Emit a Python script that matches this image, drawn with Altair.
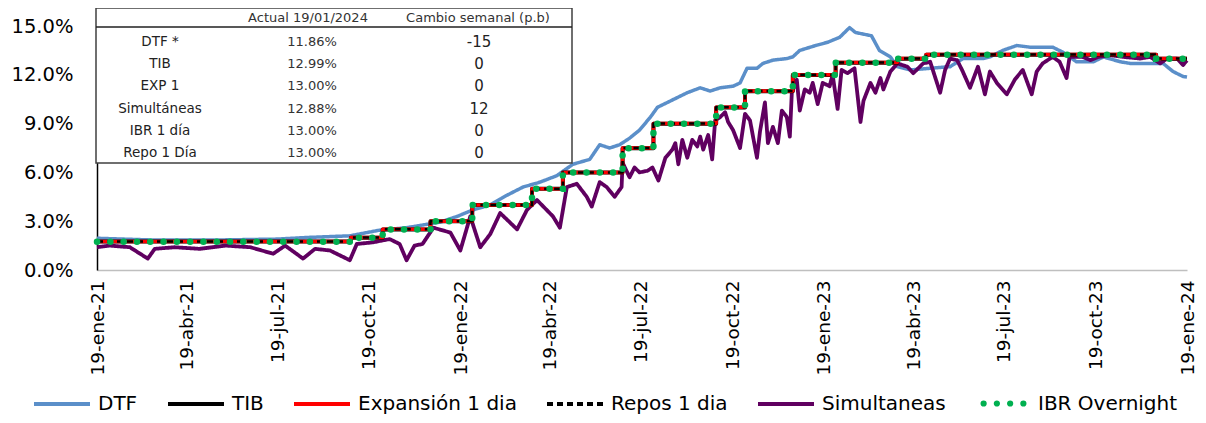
import altair as alt
import pandas as pd

# ------------------------------------------------------------------ data
SERIES = ["DTF", "TIB", "Expansión 1 dia", "Repos 1 dia", "Simultaneas"]
COLORES = ["#5B8FC9", "#000000", "#FF0000", "#000000", "#600060"]
IBR_NOMBRE = "IBR Overnight"
IBR_COLOR = "#00B050"

DTF_FECHAS = ["2021-01-19", "2021-03-13", "2021-05-26", "2021-07-19", "2021-08-18", "2021-09-30",
              "2021-10-30", "2021-11-26", "2021-12-30", "2022-01-16", "2022-02-01", "2022-02-18",
              "2022-03-07", "2022-03-23", "2022-04-09", "2022-04-26", "2022-05-12", "2022-05-29",
              "2022-06-08", "2022-06-18", "2022-06-28", "2022-07-08", "2022-07-18", "2022-07-29",
              "2022-08-05", "2022-08-15", "2022-08-25", "2022-09-04", "2022-09-17", "2022-09-27",
              "2022-10-07", "2022-10-20", "2022-10-27", "2022-11-03", "2022-11-13", "2022-11-19",
              "2022-11-29", "2022-12-13", "2022-12-19", "2022-12-26", "2023-01-11", "2023-01-23",
              "2023-02-04", "2023-02-14", "2023-02-20", "2023-03-08", "2023-03-16", "2023-03-27",
              "2023-04-03", "2023-04-16", "2023-05-06", "2023-05-26", "2023-06-08", "2023-06-28",
              "2023-07-05", "2023-07-18", "2023-08-01", "2023-08-14", "2023-09-06", "2023-09-16",
              "2023-09-30", "2023-10-17", "2023-10-27", "2023-11-13", "2023-11-23", "2023-12-26",
              "2024-01-05", "2024-01-15", "2024-01-19"]
DTF_VALORES = [1.95, 1.85, 1.85, 1.9, 2.0, 2.1,
               2.45, 2.6, 2.95, 3.3, 3.7, 4.0,
               4.6, 5.1, 5.4, 5.8, 6.5, 6.8,
               7.7, 7.5, 7.7, 8.1, 8.6, 9.4,
               10.0, 10.3, 10.6, 10.9, 11.2, 11.0,
               11.2, 11.3, 11.5, 12.4, 12.4, 12.7,
               12.9, 13.0, 13.1, 13.5, 13.8, 14.0,
               14.3, 14.9, 14.6, 14.4, 13.5, 13.1,
               12.5, 12.3, 12.4, 12.5, 13.0, 13.0,
               13.1, 13.5, 13.8, 13.7, 13.7, 13.4,
               12.8, 12.8, 13.1, 12.8, 12.7, 12.7,
               12.2, 11.9, 11.86]

SIM_FECHAS = ["2021-01-19", "2021-02-01", "2021-02-21", "2021-03-11", "2021-03-18", "2021-04-07",
              "2021-05-02", "2021-05-28", "2021-06-22", "2021-07-15", "2021-07-27", "2021-08-14",
              "2021-08-26", "2021-09-10", "2021-09-30", "2021-10-07", "2021-10-23", "2021-11-09",
              "2021-11-19", "2021-11-26", "2021-12-04", "2021-12-12", "2021-12-23", "2022-01-09",
              "2022-01-19", "2022-01-29", "2022-02-08", "2022-02-18", "2022-02-28", "2022-03-17",
              "2022-03-27", "2022-04-06", "2022-04-22", "2022-04-29", "2022-05-06", "2022-05-16",
              "2022-05-26", "2022-05-31", "2022-06-08", "2022-06-15", "2022-06-23", "2022-06-30",
              "2022-07-01", "2022-07-08", "2022-07-13", "2022-07-18", "2022-07-26", "2022-07-31",
              "2022-08-06", "2022-08-13", "2022-08-20", "2022-08-23", "2022-08-26", "2022-08-30",
              "2022-09-04", "2022-09-09", "2022-09-14", "2022-09-17", "2022-09-20", "2022-09-25",
              "2022-09-29", "2022-10-02", "2022-10-07", "2022-10-12", "2022-10-15", "2022-10-20",
              "2022-10-27", "2022-11-01", "2022-11-06", "2022-11-13", "2022-11-16", "2022-11-21",
              "2022-11-24", "2022-11-29", "2022-12-04", "2022-12-08", "2022-12-13", "2022-12-16",
              "2022-12-18", "2022-12-23", "2022-12-26", "2022-12-31", "2023-01-05", "2023-01-08",
              "2023-01-13", "2023-01-18", "2023-01-25", "2023-01-28", "2023-02-02", "2023-02-06",
              "2023-02-12", "2023-02-19", "2023-02-25", "2023-02-28", "2023-03-07", "2023-03-12",
              "2023-03-17", "2023-03-20", "2023-03-27", "2023-04-03", "2023-04-13", "2023-04-19",
              "2023-04-29", "2023-05-06", "2023-05-16", "2023-05-21", "2023-05-26", "2023-06-02",
              "2023-06-07", "2023-06-15", "2023-06-23", "2023-06-30", "2023-07-05", "2023-07-12",
              "2023-07-22", "2023-07-30", "2023-08-07", "2023-08-16", "2023-08-21", "2023-08-27",
              "2023-09-06", "2023-09-13", "2023-09-20", "2023-09-23", "2023-10-06", "2023-10-14",
              "2023-10-22", "2023-11-03", "2023-11-16", "2023-12-03", "2023-12-13", "2023-12-23",
              "2023-12-30", "2024-01-09", "2024-01-15", "2024-01-19"]
SIM_VALORES = [1.4, 1.5, 1.4, 0.7, 1.3, 1.4,
               1.3, 1.5, 1.4, 1.0, 1.5, 0.7,
               1.3, 1.2, 0.6, 1.6, 1.7, 1.9,
               1.6, 0.6, 1.5, 1.6, 2.6, 2.3,
               1.2, 3.3, 1.4, 2.2, 3.5, 2.5,
               3.7, 4.3, 3.3, 2.6, 5.1, 5.3,
               4.5, 3.9, 5.4, 5.1, 4.5, 5.1,
               6.6, 5.7, 6.3, 6.0, 6.1, 6.3,
               5.5, 6.9, 7.4, 7.8, 6.5, 8.0,
               6.9, 8.0, 7.6, 8.2, 7.4, 8.3,
               6.8, 9.2, 9.4, 9.7, 9.1, 8.6,
               7.5, 9.6, 9.2, 6.9, 8.5, 10.3,
               7.8, 8.8, 7.8, 9.8, 9.4, 8.2,
               10.9, 11.7, 9.8, 11.1, 10.9, 11.5,
               10.2, 11.5, 11.3, 12.0, 9.9, 12.3,
               12.1, 12.4, 9.1, 10.4, 11.5, 10.9,
               11.8, 11.1, 12.2, 12.7, 12.5, 12.1,
               12.7, 12.8, 10.9, 12.3, 13.0, 12.9,
               12.3, 11.2, 12.5, 10.8, 12.2, 11.5,
               10.8, 11.7, 12.3, 10.8, 12.2, 12.7,
               13.1, 12.8, 11.8, 13.1, 13.1, 12.9,
               13.1, 13.2, 13.1, 13.0, 13.1, 12.7,
               13.0, 13.0, 12.6, 12.88]

POL_FECHAS = ["2021-01-19", "2021-10-01", "2021-11-02", "2021-12-20", "2022-01-31", "2022-04-01",
              "2022-05-02", "2022-07-01", "2022-08-01", "2022-10-03", "2022-11-01", "2022-12-19",
              "2023-01-31", "2023-04-03", "2023-05-02", "2023-12-19", "2024-01-19"]
TIB_VALORES = [1.75, 1.99, 2.49, 2.99, 3.99, 4.99, 5.99, 7.49, 8.99, 9.99, 10.99, 11.99,
               12.74, 12.99, 13.24, 12.99, 12.99]
EXP_VALORES = [1.75, 2.0, 2.5, 3.0, 4.0, 5.0, 6.0, 7.5, 9.0, 10.0, 11.0, 12.0,
               12.75, 13.0, 13.25, 13.0, 13.0]
REPO_VALORES = [1.75, 2.0, 2.5, 3.0, 4.0, 5.0, 6.0, 7.5, 9.0, 10.0, 11.0, 12.0,
                12.75, 13.0, 13.25, 13.0, 13.0]
IBR_VALORES = [1.74, 1.99, 2.49, 2.99, 3.99, 4.99, 5.99, 7.49, 8.99, 9.99, 10.99, 11.99,
               12.74, 12.99, 13.24, 12.99, 13.0]

TICK_FECHAS = ["2021-01-19", "2021-04-19", "2021-07-19", "2021-10-19", "2022-01-19", "2022-04-19",
               "2022-07-19", "2022-10-19", "2023-01-19", "2023-04-19", "2023-07-19", "2023-10-19",
               "2024-01-19"]
MESES = ["ene", "feb", "mar", "abr", "may", "jun", "jul", "ago", "sep", "oct", "nov", "dic"]
Y_TICKS = [0, 3, 6, 9, 12, 15]

TABLA_ENCABEZADO = ["Actual 19/01/2024", "Cambio semanal (p.b)"]
TABLA_NOMBRES = ["DTF *", "TIB", "EXP 1", "Simultáneas", "IBR 1 día", "Repo 1 Día"]
TABLA_ACTUAL = ["11.86%", "12.99%", "13.00%", "12.88%", "13.00%", "13.00%"]
TABLA_CAMBIO = ["-15", "0", "0", "12", "0", "0"]

# ------------------------------------------------------------------ frames
def serie(nombre, fechas, valores):
    d = pd.DataFrame({"fecha": fechas, "valor": valores})
    d["serie"] = nombre
    return d

df = pd.concat([
    serie("DTF", DTF_FECHAS, DTF_VALORES),
    serie("TIB", POL_FECHAS, TIB_VALORES),
    serie("Expansión 1 dia", POL_FECHAS, EXP_VALORES),
    serie("Repos 1 dia", POL_FECHAS, REPO_VALORES),
    serie("Simultaneas", SIM_FECHAS, SIM_VALORES),
    serie(IBR_NOMBRE, POL_FECHAS, IBR_VALORES),
], ignore_index=True)

def ms(s):
    return int(pd.Timestamp(s, tz="UTC").value // 10**6)

tick_ms = [ms(t) for t in TICK_FECHAS]
meses_js = "[" + ",".join("'%s'" % m for m in MESES) + "]"

FONT = "DejaVu Sans"
DASHES = [[1, 0], [1, 0], [1, 0], [6, 4], [1, 0]]

X_ENC = alt.X("fecha:T",
              scale=alt.Scale(type="utc", domain=[tick_ms[0], tick_ms[-1]]),
              axis=alt.Axis(values=tick_ms, title=None, grid=False, ticks=False, tickSize=0,
                            labelAngle=-90, labelPadding=10, labelFlush=False,
                            labelFont=FONT, labelFontSize=18.5, labelColor="black",
                            domainColor="#BFBFBF", domainWidth=1.5,
                            labelExpr="utcdate(datum.value) + '-' + " + meses_js +
                                      "[utcmonth(datum.value)] + '-' + utcFormat(datum.value, '%y')"))
Y_ENC = alt.Y("valor:Q", scale=alt.Scale(domain=[0, 15]),
              axis=alt.Axis(values=Y_TICKS, title=None, grid=False, ticks=False, tickSize=0,
                            labelPadding=24, labelFont=FONT, labelFontSize=19.5, labelColor="black",
                            domainColor="black", domainWidth=1.5,
                            labelExpr="format(datum.value, '.1f') + '%'"))

leyenda = alt.Legend(orient="none", legendX=-65, legendY=348, direction="horizontal",
                     title=None, symbolType="stroke", symbolSize=3136, symbolStrokeWidth=4,
                     labelFont=FONT, labelFontSize=20, labelColor="black",
                     labelOffset=6, columnPadding=22, padding=0, labelLimit=0)

# four small dots as a custom symbol (unit box -1..1)
r = 0.057
dots = " ".join("M%.3f,0a%.3f,%.3f 0 1,0 %.3f,0a%.3f,%.3f 0 1,0 %.3f,0" % (cx - r, r, r, 2 * r, r, r, -2 * r)
                for cx in (-0.75, -0.25, 0.25, 0.75))
leyenda_ibr = alt.Legend(orient="none", legendX=878, legendY=349, direction="horizontal",
                         title=None, symbolType=dots, symbolSize=2809, symbolStrokeWidth=3.2,
                         symbolStrokeColor=IBR_COLOR, symbolFillColor=IBR_COLOR,
                         labelFont=FONT, labelFontSize=20, labelColor="black",
                         labelOffset=6, padding=0, labelLimit=0)

base = alt.Chart(df).encode(
    x=X_ENC, y=Y_ENC,
    color=alt.Color("serie:N", scale=alt.Scale(domain=SERIES, range=COLORES), legend=leyenda),
    strokeDash=alt.StrokeDash("serie:N", scale=alt.Scale(domain=SERIES, range=DASHES), legend=leyenda),
)

def capa(nombre, interp, ancho, cap="butt"):
    return base.transform_filter(alt.datum.serie == nombre).mark_line(
        interpolate=interp, strokeWidth=ancho, strokeCap=cap, strokeJoin="round")

ibr = alt.Chart(df).transform_filter(alt.datum.serie == IBR_NOMBRE).mark_line(
    interpolate="step-after", color=IBR_COLOR, strokeWidth=6.5, strokeCap="round",
    strokeDash=[0.1, 13.2]).encode(
    x=X_ENC, y=Y_ENC,
    opacity=alt.Opacity("serie:N", scale=alt.Scale(type="ordinal", domain=[IBR_NOMBRE], range=[1]),
                        legend=leyenda_ibr))

principal = alt.layer(
    capa("DTF", "linear", 3.5),
    capa("Simultaneas", "linear", 3.8),
    capa("TIB", "step-after", 4),
    capa("Expansión 1 dia", "step-after", 3.5),
    capa("Repos 1 dia", "step-after", 2.5),
    ibr,
)

# ------------------------------------------------------------------ table
tabla_df = pd.DataFrame({"nombre": TABLA_NOMBRES, "actual": TABLA_ACTUAL,
                         "cambio": TABLA_CAMBIO, "fila": list(range(len(TABLA_NOMBRES)))})
ytab = alt.Y("fila:Q", scale=alt.Scale(domain=[0, 5], range=[16, 127]), axis=None)
uno = alt.Data(values=[{"k": 1}])

caja = alt.Chart(uno).mark_rect(fill="white", stroke="#404040", strokeWidth=1.5).encode(
    x=alt.value(-1), x2=alt.value(475), y=alt.value(-18), y2=alt.value(137))
separador = alt.Chart(uno).mark_rule(color="#202020", strokeWidth=1.5).encode(
    x=alt.value(-1), x2=alt.value(475), y=alt.value(1))
enc_df = pd.DataFrame({"t": TABLA_ENCABEZADO})
enc1 = alt.Chart(enc_df).transform_filter(alt.datum.t == TABLA_ENCABEZADO[0]).mark_text(
    font=FONT, fontSize=13, color="#333333").encode(x=alt.value(211), y=alt.value(-8), text="t:N")
enc2 = alt.Chart(enc_df).transform_filter(alt.datum.t == TABLA_ENCABEZADO[1]).mark_text(
    font=FONT, fontSize=13, color="#333333").encode(x=alt.value(381), y=alt.value(-8), text="t:N")
col1 = alt.Chart(tabla_df).mark_text(font=FONT, fontSize=13.5, color="#222222").encode(
    x=alt.value(63), y=ytab, text="nombre:N")
col2 = alt.Chart(tabla_df).mark_text(font=FONT, fontSize=13, color="#333333").encode(
    x=alt.value(215), y=ytab, text="actual:N")
col3 = alt.Chart(tabla_df).mark_text(font=FONT, fontSize=15, color="#222222").encode(
    x=alt.value(382), y=ytab, text="cambio:N")

tabla = alt.layer(caja, separador, enc1, enc2, col1, col2, col3)

chart = alt.layer(principal, tabla).resolve_scale(y="independent").properties(
    width=1090, height=244,
    autosize=alt.AutoSizeParams(type="none"),
    padding={"left": 89, "top": 18, "right": 11, "bottom": 145},
).configure_view(stroke=None)

chart.save("out.html", embed_options={"renderer": "svg", "actions": False})
